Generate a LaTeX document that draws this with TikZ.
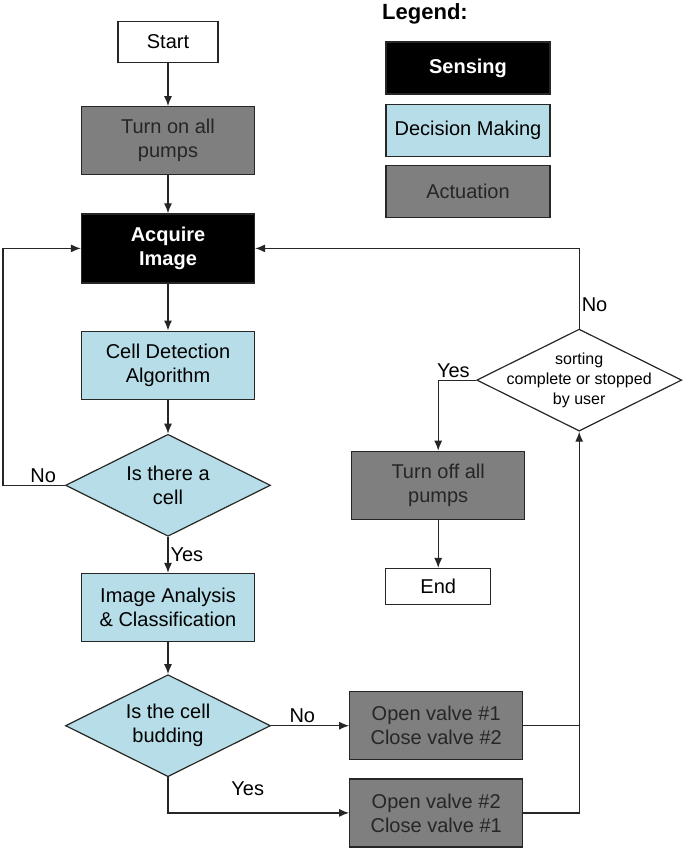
\documentclass[tikz,border=0pt]{standalone}
\usepackage{fontspec}
\setmainfont{Liberation Sans}
\usetikzlibrary{arrows.meta,positioning,shapes.geometric}
\definecolor{ink}{HTML}{262626}
\definecolor{actgray}{HTML}{7F7F7F}
\definecolor{decblue}{HTML}{B7DEE8}
\tikzset{
  box/.style={draw=ink, line width=1.2pt, align=center, inner sep=0pt, font=\fontsize{20}{24}\selectfont},
  terminal/.style={box, fill=white, minimum width=100pt, minimum height=41pt},
  sensing/.style={box, fill=black, text=white, font=\fontsize{20}{24}\selectfont\bfseries, minimum width=173pt, minimum height=69pt},
  process/.style={box, fill=decblue, minimum width=173pt, minimum height=68pt},
  actuation/.style={box, fill=actgray, text=ink, minimum width=173pt, minimum height=68pt},
  decision/.style={box, diamond, aspect=2, fill=decblue, minimum width=205pt, minimum height=102pt},
  legendbox/.style={box, minimum width=164pt, minimum height=52pt},
  arrow/.style={-{Latex[length=10pt,width=8pt]}, line width=1.2pt, draw=ink},
  line/.style={line width=1.2pt, draw=ink},
  tag/.style={font=\fontsize{20}{24}\selectfont, inner sep=2pt}
}
\begin{document}
\begin{tikzpicture}[x=1pt,y=1pt]
\useasboundingbox (0,0) rectangle (685,-851);
% main column
\node[terminal] (start) at (168,-42) {Start};
\node[actuation, below=43pt of start] (pumpson) {Turn on all\\pumps};
\node[sensing, below=38pt of pumpson] (acquire) {Acquire\\Image};
\node[process, below=47pt of acquire] (detect) {Cell Detection\\Algorithm};
\node[decision, below=34pt of detect] (iscell) {Is there a\\cell};
\node[process, below=36pt of iscell] (analysis) {Image Analysis\\\& Classification};
\node[decision, below=32pt of analysis] (budding) {Is the cell\\budding};
% valves and the end branch
\node[actuation, right=78pt of budding] (valveone) {Open valve \#1\\Close valve \#2};
\node[actuation, below=18pt of valveone] (valvetwo) {Open valve \#2\\Close valve \#1};
\node[actuation, right=80pt of iscell] (pumpsoff) {Turn off all\\pumps};
\node[terminal, below=48pt of pumpsoff, minimum width=105pt, minimum height=36pt] (finish) {End};
\node[decision, fill=white, above=19pt of pumpsoff, xshift=141pt,
  label={[align=center, font=\fontsize{16}{20}\selectfont]center:sorting\\complete or stopped\\by user}] (sortdone) {};
% legend
\node[font=\fontsize{22}{26}\selectfont\bfseries] (legend) at (425,-14) {Legend:};
\node[legendbox, fill=black, text=white, font=\fontsize{20}{24}\selectfont\bfseries] (legsense) at (468,-68) {Sensing};
\node[legendbox, fill=decblue, below=9pt of legsense] (legdecide) {Decision Making};
\node[legendbox, fill=actgray, text=ink, below=8pt of legdecide] (legact) {Actuation};
% connectors
\draw[arrow] (start) -- (pumpson);
\draw[arrow] (pumpson) -- (acquire);
\draw[arrow] (acquire) -- (detect);
\draw[arrow] (detect) -- (iscell);
\draw[arrow] (iscell) -- node[tag, right] {Yes} (analysis);
\draw[arrow] (analysis) -- (budding);
\draw[arrow] (iscell.west) -- node[tag, above, pos=0.35] {No} ++(-62pt,0) |- (acquire.west);
\draw[arrow] (budding.east) -- node[tag, above, pos=0.4] {No} (valveone);
\draw[arrow] (budding.south) |- node[tag, above=15pt, pos=0.72] {Yes} (valvetwo.west);
\draw[line] (valveone.east) -- (valveone.east -| sortdone.south);
\draw[arrow] (valvetwo.east) -| (sortdone.south);
\draw[arrow] (sortdone.north) |- node[tag, right, pos=0.15] {No} (acquire.east);
\draw[arrow] (sortdone.west) -| node[tag, above, pos=0.3] {Yes} (pumpsoff.north);
\draw[arrow] (pumpsoff) -- (finish);
\end{tikzpicture}
\end{document}
